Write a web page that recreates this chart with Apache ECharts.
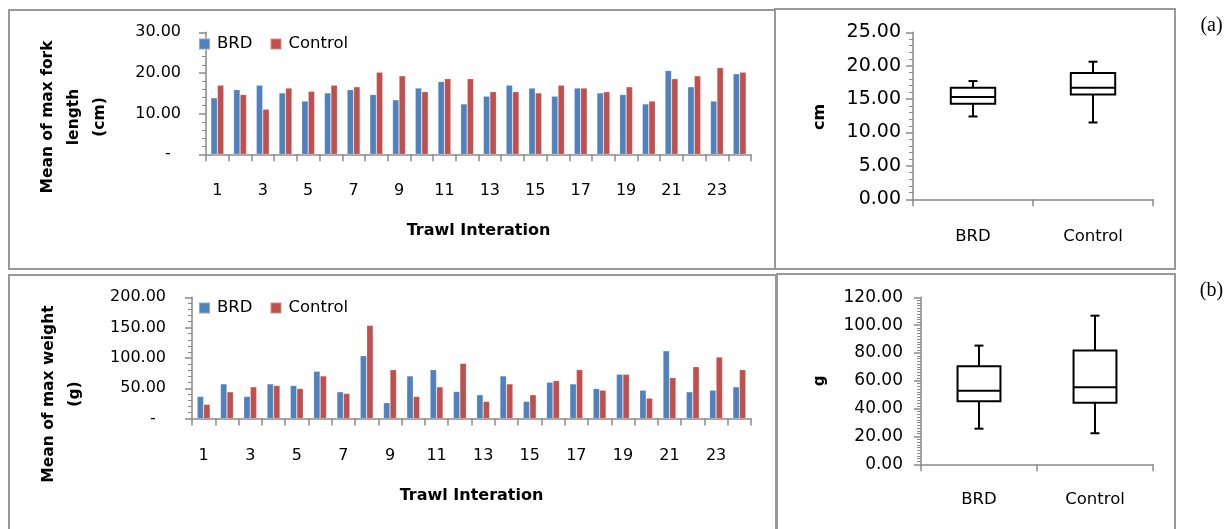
<!DOCTYPE html>
<html>
<head>
<meta charset="utf-8">
<script src="https://cdn.jsdelivr.net/npm/echarts@6/dist/echarts.min.js"></script>
<style>
  html, body { margin: 0; padding: 0; background: #fff; }
  #chart { width: 1231px; height: 529px; }
</style>
</head>
<body>
<div id="chart"></div>
<script>
// Trawl iterations 1..24
const trawls = ['1','2','3','4','5','6','7','8','9','10','11','12','13','14','15','16','17','18','19','20','21','22','23','24'];

// (a) mean of max fork length (cm) per trawl
const forkBRD     = [13.9, 15.9, 17.0, 15.1, 13.1, 15.1, 15.9, 14.7, 13.4, 16.3, 17.9, 12.4, 14.3, 17.0, 16.3, 14.3, 16.3, 15.1, 14.7, 12.4, 20.6, 16.6, 13.1, 19.8];
const forkControl = [17.0, 14.7, 11.1, 16.3, 15.5, 17.0, 16.6, 20.2, 19.3, 15.4, 18.6, 18.6, 15.4, 15.4, 15.1, 17.0, 16.3, 15.4, 16.6, 13.1, 18.6, 19.3, 21.3, 20.2];

// (b) mean of max weight (g) per trawl
const weightBRD     = [36.5, 57.3, 36.5, 57.3, 54.6, 78.0, 44.2, 103.7, 26.2, 70.4, 80.7, 44.7, 39.3, 70.4, 28.4, 60.0, 57.3, 49.6, 73.1, 46.9, 111.8, 44.2, 46.9, 52.4];
const weightControl = [23.5, 44.2, 52.4, 54.6, 49.6, 70.4, 41.5, 153.8, 80.7, 36.5, 52.4, 91.1, 28.4, 57.3, 39.3, 62.7, 80.7, 46.9, 73.1, 33.8, 67.6, 85.6, 101.5, 80.7];

// Box summaries: [min, Q1, median, Q3, max]
const groups = ['BRD', 'Control'];
const forkBoxBRD       = [12.4, 14.3, 15.3, 16.7, 17.7];
const forkBoxControl   = [11.5, 15.7, 16.7, 18.9, 20.6];
const weightBoxBRD     = [25.6, 45.3, 52.9, 70.4, 85.3];
const weightBoxControl = [22.3, 44.3, 55.3, 81.7, 106.8];

const FONT = 'DejaVu Sans';
const AXIS_GREY = '#8a8a8a';
const BLUE = '#4F81BD';
const RED = '#C0504D';

const chart = echarts.init(document.getElementById('chart'), null, { renderer: 'canvas' });

function dashZero(v) { return v === 0 ? '-  ' : v.toFixed(2); }
function fixed2(v) { return v.toFixed(2); }

function catAxis(gridIndex, data, labelInterval, margin, fontSize, name, nameGap) {
  return {
    type: 'category', gridIndex, data,
    boundaryGap: true,
    axisLine: { show: true, lineStyle: { color: AXIS_GREY, width: 1.5 } },
    axisTick: { show: true, interval: 0, length: 7, lineStyle: { color: AXIS_GREY, width: 1.5 } },
    axisLabel: { interval: labelInterval, margin, color: '#000', fontFamily: FONT, fontSize },
    name: name || '', nameLocation: 'middle', nameGap: nameGap || 0,
    nameTextStyle: { color: '#000', fontFamily: FONT, fontSize: 16, fontWeight: 'bold' },
    splitLine: { show: false }
  };
}

function valAxis(gridIndex, max, interval, minorSplit, margin, fontSize, formatter) {
  return {
    type: 'value', gridIndex, min: 0, max, interval,
    axisLine: { show: true, lineStyle: { color: AXIS_GREY, width: 1.5 } },
    axisTick: { show: true, length: 7, lineStyle: { color: AXIS_GREY, width: 1.5 } },
    minorTick: { show: true, splitNumber: minorSplit, length: 4, lineStyle: { color: AXIS_GREY, width: 1 } },
    axisLabel: { margin, color: '#000', fontFamily: FONT, fontSize, formatter },
    splitLine: { show: false },
    minorSplitLine: { show: false }
  };
}

function barSeries(name, color, xi, yi, data) {
  return {
    type: 'bar', name, xAxisIndex: xi, yAxisIndex: yi, data,
    barWidth: 6.5, barGap: '0%',
    itemStyle: { color, borderColor: 'rgba(255,255,255,0.35)', borderWidth: 0.6 }
  };
}

// Box-and-whisker glyph drawn through the axis scales
function renderBox(params, api) {
  const idx = api.value(0);
  const lo = api.coord([idx, api.value(1)]);
  const q1 = api.coord([idx, api.value(2)]);
  const md = api.coord([idx, api.value(3)]);
  const q3 = api.coord([idx, api.value(4)]);
  const hi = api.coord([idx, api.value(5)]);
  const bw = api.size([1, 0])[0] * 0.37;
  const cx = md[0];
  const cap = 4.5;
  const st = { stroke: '#000', lineWidth: 2, fill: null };
  return {
    type: 'group',
    children: [
      { type: 'line', shape: { x1: cx, y1: hi[1], x2: cx, y2: q3[1] }, style: st },
      { type: 'line', shape: { x1: cx, y1: q1[1], x2: cx, y2: lo[1] }, style: st },
      { type: 'line', shape: { x1: cx - cap, y1: hi[1], x2: cx + cap, y2: hi[1] }, style: st },
      { type: 'line', shape: { x1: cx - cap, y1: lo[1], x2: cx + cap, y2: lo[1] }, style: st },
      { type: 'rect', shape: { x: cx - bw / 2, y: q3[1], width: bw, height: q1[1] - q3[1] }, style: { stroke: '#000', lineWidth: 2, fill: '#fff' } },
      { type: 'line', shape: { x1: cx - bw / 2, y1: md[1], x2: cx + bw / 2, y2: md[1] }, style: st }
    ]
  };
}

function boxSeries(xi, yi, brd, ctl) {
  return {
    type: 'custom', xAxisIndex: xi, yAxisIndex: yi,
    renderItem: renderBox,
    encode: { x: 0, y: [1, 2, 3, 4, 5] },
    data: [[0].concat(brd), [1].concat(ctl)]
  };
}

const legendBase = {
  data: ['BRD', 'Control'],
  orient: 'horizontal',
  padding: 0,
  itemWidth: 11, itemHeight: 11, itemGap: 17,
  icon: 'rect',
  textStyle: { color: '#000', fontFamily: FONT, fontSize: 16.5, lineHeight: 20, padding: [0, 0, 0, 2] }
};

const panelStroke = { stroke: '#999', lineWidth: 2, fill: null };

const option = {
  animation: false,
  backgroundColor: '#fff',
  grid: [
    { left: 206, top: 32.3, width: 545, height: 122 },
    { left: 192, top: 297.3, width: 559, height: 121.3 },
    { left: 913, top: 32.3, width: 240, height: 167 },
    { left: 921, top: 297.3, width: 232, height: 167 }
  ],
  legend: [
    Object.assign({}, legendBase, { left: 198, top: 34 }),
    Object.assign({}, legendBase, { left: 198, top: 298 })
  ],
  xAxis: [
    catAxis(0, trawls, 1, 29, 16, 'Trawl Interation', 69),
    catAxis(1, trawls, 1, 29, 16, 'Trawl Interation', 69),
    catAxis(2, groups, 0, 29, 16.5),
    catAxis(3, groups, 0, 27, 16.5)
  ],
  yAxis: [
    valAxis(0, 30, 10, 5, 25, 16, dashZero),
    valAxis(1, 200, 50, 5, 26, 16, dashZero),
    valAxis(2, 25, 5, 5, 12, 19, fixed2),
    valAxis(3, 120, 20, 10, 18, 17, fixed2)
  ],
  series: [
    barSeries('BRD', BLUE, 0, 0, forkBRD),
    barSeries('Control', RED, 0, 0, forkControl),
    barSeries('BRD', BLUE, 1, 1, weightBRD),
    barSeries('Control', RED, 1, 1, weightControl),
    boxSeries(2, 2, forkBoxBRD, forkBoxControl),
    boxSeries(3, 3, weightBoxBRD, weightBoxControl)
  ],
  graphic: [
    // panel frames
    { type: 'rect', shape: { x: 9, y: 10, width: 766, height: 259 }, style: panelStroke, silent: true, z: -1 },
    { type: 'rect', shape: { x: 775, y: 9, width: 400, height: 260 }, style: panelStroke, silent: true, z: -1 },
    { type: 'rect', shape: { x: 9, y: 275, width: 767, height: 270 }, style: panelStroke, silent: true, z: -1 },
    { type: 'rect', shape: { x: 777, y: 274, width: 398, height: 270 }, style: panelStroke, silent: true, z: -1 },
    // rotated axis titles
    { type: 'text', x: 74, y: 117, rotation: Math.PI / 2,
      style: { text: 'Mean of max fork\nlength\n(cm)', fontFamily: FONT, fontSize: 15.5, fontWeight: 'bold', lineHeight: 26,
               fill: '#000', textAlign: 'center', textVerticalAlign: 'middle' } },
    { type: 'text', x: 61.5, y: 394, rotation: Math.PI / 2,
      style: { text: 'Mean of max weight\n(g)', fontFamily: FONT, fontSize: 15.5, fontWeight: 'bold', lineHeight: 26,
               fill: '#000', textAlign: 'center', textVerticalAlign: 'middle' } },
    { type: 'text', x: 820, y: 117, rotation: Math.PI / 2,
      style: { text: 'cm', fontFamily: FONT, fontSize: 16, fontWeight: 'bold', fill: '#000', textAlign: 'center', textVerticalAlign: 'middle' } },
    { type: 'text', x: 820, y: 381, rotation: Math.PI / 2,
      style: { text: 'g', fontFamily: FONT, fontSize: 15, fontWeight: 'bold', fill: '#000', textAlign: 'center', textVerticalAlign: 'middle' } },
    // panel tags
    { type: 'text', x: 1211.5, y: 26,
      style: { text: '(a)', fontFamily: 'Liberation Serif', fontSize: 20, fill: '#000', textAlign: 'center', textVerticalAlign: 'middle' } },
    { type: 'text', x: 1211.5, y: 291,
      style: { text: '(b)', fontFamily: 'Liberation Serif', fontSize: 20, fill: '#000', textAlign: 'center', textVerticalAlign: 'middle' } }
  ]
};

chart.setOption(option);
</script>
</body>
</html>
